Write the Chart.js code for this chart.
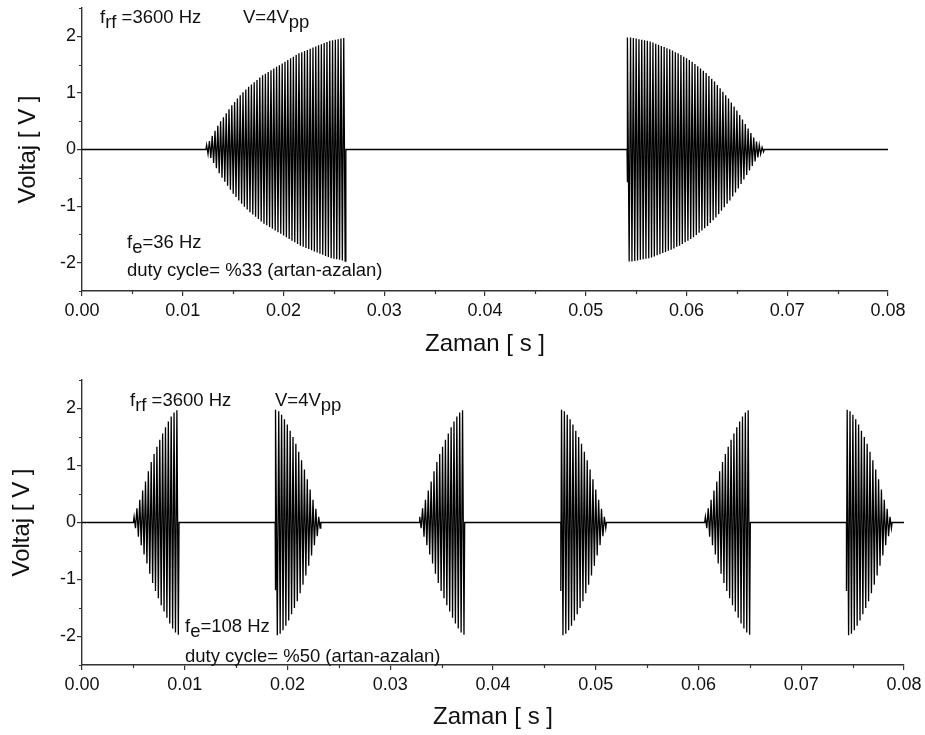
<!DOCTYPE html>
<html lang="en">
<head>
  <meta charset="UTF-8">
  <title>Voltaj - Zaman</title>
  <script src="https://cdn.jsdelivr.net/npm/chart.js"></script>
  <style>
    body { margin: 0; background: #fff; }
    .panel { position: absolute; left: 0; }
  </style>
</head>
<body>
  <canvas id="top-chart" class="panel" style="top:0" width="925" height="365"></canvas>
  <canvas id="bottom-chart" class="panel" style="top:365px" width="925" height="370"></canvas>

  <script>
    // carrier: f_rf = 3600 Hz, one peak pair per rf cycle
    const rfPeriod = 1 / 3600;

    // axis ticks
    const xTicks = [0, 0.01, 0.02, 0.03, 0.04, 0.05, 0.06, 0.07, 0.08];
    const xMinorTicks = [0.005, 0.015, 0.025, 0.035, 0.045, 0.055, 0.065, 0.075];
    const yTicks = [-2, -1, 0, 1, 2];
    const yMinorTicks = [-2.5, -1.5, -0.5, 0.5, 1.5, 2.5];

    // top panel (f_e = 36 Hz, duty 33%) - burst start times [s] and peak amplitude per rf cycle [V]
    const topRiseStart = 0.0123;
    const topRiseAmp = [0.08, 0.15, 0.24, 0.33, 0.42, 0.50, 0.57, 0.64, 0.71, 0.78,
      0.84, 0.90, 0.96, 1.01, 1.06, 1.11, 1.15, 1.19, 1.23, 1.27,
      1.31, 1.34, 1.37, 1.40, 1.43, 1.46, 1.49, 1.52, 1.55, 1.58,
      1.61, 1.64, 1.67, 1.70, 1.72, 1.74, 1.76, 1.78, 1.80, 1.82,
      1.84, 1.86, 1.88, 1.90, 1.92, 1.93, 1.94, 1.95, 1.96, 1.97];
    const topFallStart = 0.0541;
    const topFallLead = -0.58;
    const topFallAmp = [1.98, 1.98, 1.97, 1.96, 1.95, 1.94, 1.93, 1.92, 1.91, 1.89,
      1.87, 1.85, 1.83, 1.81, 1.79, 1.77, 1.75, 1.72, 1.70, 1.67,
      1.64, 1.61, 1.58, 1.55, 1.51, 1.47, 1.43, 1.39, 1.35, 1.30,
      1.25, 1.20, 1.14, 1.08, 1.02, 0.96, 0.90, 0.83, 0.76, 0.69,
      0.61, 0.53, 0.45, 0.37, 0.29, 0.21, 0.14, 0.08, 0.04];

    // bottom panel (f_e = 108 Hz, duty 50%)
    const botRiseStart = [0.0050, 0.0328, 0.0606];
    const botRiseAmp = [0.10, 0.25, 0.40, 0.56, 0.72, 0.90, 1.06, 1.20,
      1.33, 1.45, 1.56, 1.67, 1.77, 1.86, 1.93, 1.97];
    const botFallStart = [0.0188, 0.0466, 0.0744];
    const botFallLead = [-1.19, -1.2, -1.2];
    const botFallAmp = [1.98, 1.95, 1.89, 1.81, 1.72, 1.61, 1.50, 1.38,
      1.24, 1.09, 0.93, 0.76, 0.58, 0.40, 0.24, 0.10];

    const fontFamily = '"Liberation Sans", Arial, sans-serif';
    const axisColor = '#333';
    const textColor = '#111';

    // one burst: zero, optional partial first swing, then +a/-a for each rf cycle, back to zero
    function burst(start, amps, lead) {
      const pts = [{ x: start, y: 0 }];
      if (lead !== undefined) pts.push({ x: start, y: lead });
      amps.forEach((a, k) => {
        pts.push({ x: start + (k + 0.25) * rfPeriod, y: a });
        pts.push({ x: start + (k + 0.75) * rfPeriod, y: -a });
      });
      pts.push({ x: start + amps.length * rfPeriod, y: 0 });
      return pts;
    }

    const topSeries = [{ x: 0, y: 0 }]
      .concat(burst(topRiseStart, topRiseAmp))
      .concat(burst(topFallStart, topFallAmp, topFallLead))
      .concat([{ x: 0.08, y: 0 }]);

    let botSeries = [{ x: 0, y: 0 }];
    botRiseStart.forEach((s, i) => {
      botSeries = botSeries.concat(burst(s, botRiseAmp))
        .concat(burst(botFallStart[i], botFallAmp, botFallLead[i]));
    });
    botSeries.push({ x: 0.08, y: 0 });

    // minor tick marks (shorter than the major ones drawn by Chart.js)
    const minorTickPlugin = {
      id: 'minorTicks',
      afterDraw(chart) {
        const { ctx, chartArea, scales } = chart;
        ctx.save();
        ctx.strokeStyle = axisColor;
        ctx.lineWidth = 1.2;
        ctx.beginPath();
        xMinorTicks.forEach(v => {
          const px = Math.round(scales.x.getPixelForValue(v)) + 0.5;
          ctx.moveTo(px, chartArea.bottom);
          ctx.lineTo(px, chartArea.bottom + 3);
        });
        yMinorTicks.forEach(v => {
          const py = Math.round(scales.y.getPixelForValue(v)) + 0.5;
          ctx.moveTo(chartArea.left, py);
          ctx.lineTo(chartArea.left - 3, py);
        });
        ctx.stroke();
        ctx.restore();
      }
    };

    // text notes with subscripts: parts are [text, isSubscript]
    const notePlugin = {
      id: 'notes',
      afterDraw(chart, args, opts) {
        const ctx = chart.ctx;
        ctx.save();
        ctx.fillStyle = textColor;
        ctx.font = '18.5px ' + fontFamily;
        ctx.textBaseline = 'alphabetic';
        opts.items.forEach(item => {
          let cx = item.x;
          item.parts.forEach(([txt, sub]) => {
            ctx.fillText(txt, cx, sub ? item.y + 5 : item.y);
            cx += ctx.measureText(txt).width;
          });
        });
        ctx.restore();
      }
    };

    function makeChart(id, series, cfg) {
      return new Chart(document.getElementById(id), {
        type: 'line',
        data: {
          datasets: [{
            data: series,
            borderColor: '#000',
            borderWidth: 1.3,
            pointRadius: 0,
            tension: 0,
            fill: false
          }]
        },
        options: {
          responsive: false,
          animation: false,
          layout: { padding: { top: cfg.top, right: cfg.right, left: 0, bottom: 0 } },
          plugins: {
            legend: { display: false },
            tooltip: { enabled: false },
            notes: { items: cfg.notes }
          },
          scales: {
            x: {
              type: 'linear',
              min: 0,
              max: 0.08,
              afterBuildTicks: s => { s.ticks = xTicks.map(v => ({ value: v })); },
              afterFit: s => {
                s.height = cfg.xHeight;
                s.paddingLeft = 0;
                s.paddingRight = 0;
              },
              border: { display: true, color: axisColor, width: 1.4 },
              grid: { drawOnChartArea: false, drawTicks: true, tickLength: 5, color: axisColor, lineWidth: 1.2 },
              ticks: {
                autoSkip: false,
                maxRotation: 0,
                padding: 4,
                color: textColor,
                font: { family: fontFamily, size: 18 },
                callback: v => v.toFixed(2)
              },
              title: {
                display: true,
                text: 'Zaman [ s ]',
                color: textColor,
                font: { family: fontFamily, size: 24 },
                padding: { top: 0, bottom: cfg.xTitlePad }
              }
            },
            y: {
              min: -2.5,
              max: 2.5,
              afterBuildTicks: s => { s.ticks = yTicks.map(v => ({ value: v })); },
              afterFit: s => {
                s.width = 82;
                s.paddingTop = 0;
                s.paddingBottom = 0;
              },
              border: { display: true, color: axisColor, width: 1.4 },
              grid: { drawOnChartArea: false, drawTicks: true, tickLength: 5, color: axisColor, lineWidth: 1.2 },
              ticks: {
                padding: 1,
                color: textColor,
                font: { family: fontFamily, size: 18 },
                callback: v => String(v)
              },
              title: {
                display: true,
                text: 'Voltaj [ V ]',
                color: textColor,
                font: { family: fontFamily, size: 24 },
                padding: { top: cfg.yTitlePad, bottom: 0 }
              }
            }
          }
        },
        plugins: [minorTickPlugin, notePlugin]
      });
    }

    makeChart('top-chart', topSeries, {
      top: 8, right: 37, xHeight: 74, xTitlePad: 6, yTitlePad: 14,
      notes: [
        { x: 100, y: 23, parts: [['f', false], ['rf', true], [' =3600 Hz', false]] },
        { x: 243, y: 23, parts: [['V=4V', false], ['pp', true]] },
        { x: 127, y: 248, parts: [['f', false], ['e', true], ['=36 Hz', false]] },
        { x: 127, y: 276, parts: [['duty cycle= %33 (artan-azalan)', false]] }
      ]
    });

    makeChart('bottom-chart', botSeries, {
      top: 15, right: 21, xHeight: 70, xTitlePad: 3, yTitlePad: 8,
      notes: [
        { x: 130, y: 41, parts: [['f', false], ['rf', true], [' =3600 Hz', false]] },
        { x: 275, y: 41, parts: [['V=4V', false], ['pp', true]] },
        { x: 185, y: 267, parts: [['f', false], ['e', true], ['=108 Hz', false]] },
        { x: 185, y: 297, parts: [['duty cycle= %50 (artan-azalan)', false]] }
      ]
    });
  </script>
</body>
</html>
